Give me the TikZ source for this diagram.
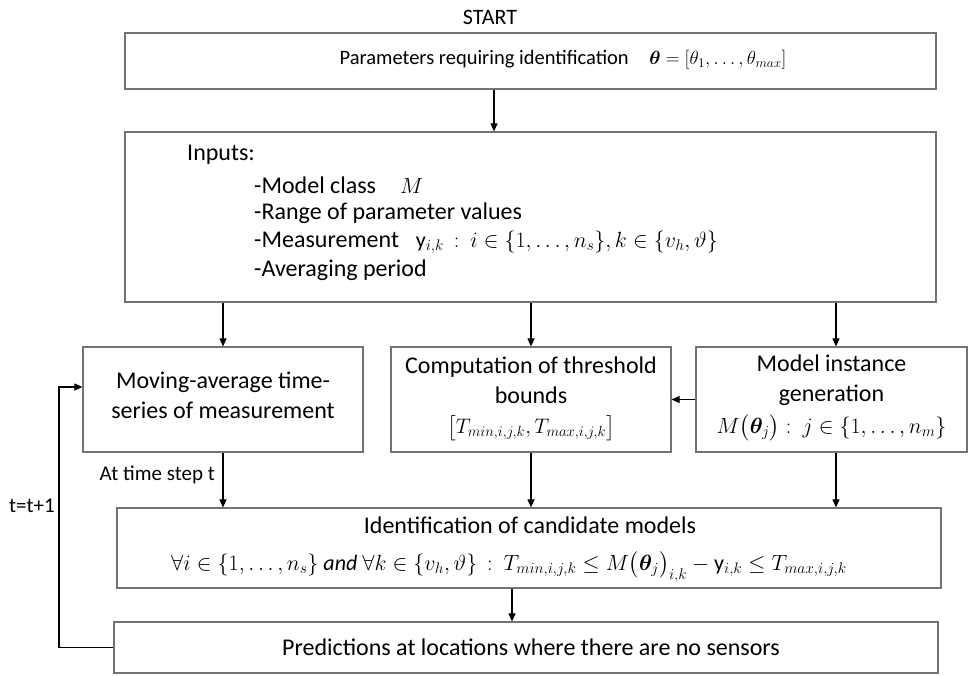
\RequirePackage{fix-cm}
\documentclass[tikz,border=0pt]{standalone}
\usepackage{amsmath,amssymb,bm}
\usepackage{fontspec}
\setmainfont{Carlito}
\usetikzlibrary{arrows.meta,calc}
% math a little smaller than the surrounding text
\newcommand{\fm}[2]{{\fontsize{#1}{#1}\selectfont$#2$}}
\begin{document}
\begin{tikzpicture}[x=1pt,y=-1pt,
  box/.style={draw=black!55,line width=1.2pt,rectangle,inner sep=0pt,align=center},
  body/.style={inner sep=0pt,align=center,font=\fontsize{24}{30}\selectfont},
  flow/.style={-{Triangle[length=8pt,width=7pt]},line width=1.1pt,draw=black},
  lbl/.style={inner sep=0pt,font=\fontsize{24}{28}\selectfont},
  small/.style={inner sep=0pt,font=\fontsize{21}{24}\selectfont}]
\useasboundingbox (0,0) rectangle (968,675);

% start label and parameter box
\node[small,font=\fontsize{22}{24}\selectfont] (start) at (490,17) {START};
\node[box,minimum width=811pt,minimum height=56pt] (params) at (530.5,61) {};
\node[inner sep=0pt,font=\fontsize{20.5}{24}\selectfont] (paramstxt) at (563,60)
  {Parameters requiring identification\quad\fm{19}{\bm{\theta}=[\theta_1,\ldots,\theta_{max}]}};

% inputs box with its list
\node[box,minimum width=811pt,minimum height=170pt] (inputs) at (530.5,217) {};
\node[lbl,anchor=west] (inhead) at (187,155) {Inputs:};
\node[lbl,anchor=west] (in1) at (254,185) {-Model class\quad\fm{22}{M}};
\node[lbl,anchor=west] (in2) at (254,213) {-Range of parameter values};
\node[lbl,anchor=west] (in3) at (254,242) {-Measurement\hspace{0.7em}\fm{22}{\mathrm{y}_{i,k}\,:\ i\in\{1,\ldots,n_s\},k\in\{v_h,\vartheta\}}};
\node[lbl,anchor=west] (in4) at (254,270) {-Averaging period};

% middle row
\node[box,minimum width=280pt,minimum height=105pt] (mov) at (223,399.5) {};
\node[body] (movtxt) at (223,395) {Moving-average time-\\series of measurement};
\node[box,minimum width=280pt,minimum height=105pt] (comp) at (531,399.5) {};
\node[body] (comptxt) at (531,380) {Computation of threshold\\bounds};
\node[inner sep=0pt] (compfm) at (531,428) {\fm{21}{\bigl[T_{min,i,j,k},T_{max,i,j,k}\bigr]}};
\node[box,minimum width=271pt,minimum height=105pt] (model) at (831.5,399.5) {};
\node[body] (modeltxt) at (831.5,380) {Model instance\\generation};
\node[inner sep=0pt] (modelfm) at (831.5,428) {\fm{22}{M\bigl(\bm{\theta}_j\bigr):\ j\in\{1,\ldots,n_m\}}};

% identification and prediction
\node[box,minimum width=824pt,minimum height=80pt] (ident) at (529,548) {};
\node[body] (identtxt) at (530,525) {Identification of candidate models};
\node[inner sep=0pt] (identfm) at (509,567)
  {\fm{22}{\forall i\in\{1,\ldots,n_s\}\ \mathit{and}\ \forall k\in\{v_h,\vartheta\}\,:\ T_{min,i,j,k}\le M\bigl(\bm{\theta}_j\bigr)_{i,k}-\mathrm{y}_{i,k}\le T_{max,i,j,k}}};
\node[box,minimum width=824pt,minimum height=51pt] (pred) at (526,647.5) {};
\node[body] (predtxt) at (531,647) {Predictions at locations where there are no sensors};

% connectors
\draw[flow] ([xshift=-36.5]params.south) -- ([xshift=-36.5]params.south |- inputs.north);
\draw[flow] (mov.north |- inputs.south) -- (mov.north);
\draw[flow] (comp.north |- inputs.south) -- (comp.north);
\draw[flow] ([xshift=4.5]model.north |- inputs.south) -- ([xshift=4.5]model.north);
\draw[flow] (model.west) -- (comp.east);
\draw[flow] (mov.south) -- (mov.south |- ident.north);
\draw[flow] (comp.south) -- (comp.south |- ident.north);
\draw[flow] ([xshift=4.5]model.south) -- ([xshift=4.5]model.south |- ident.north);
\draw[flow] ([xshift=-17]ident.south) -- ([xshift=-17]ident.south |- pred.north);

% feedback loop to the next time step
\coordinate (loop) at (59,647.5);
\coordinate (movin) at ([yshift=12.5]mov.west);
\draw[flow] (pred.west) -- (loop) -- (loop |- movin) -- (movin);
\node[small,anchor=east] (steplbl) at (215,475) {At time step t};
\node[small] (tlbl) at (32,506) {t=t+1};
\end{tikzpicture}
\end{document}
